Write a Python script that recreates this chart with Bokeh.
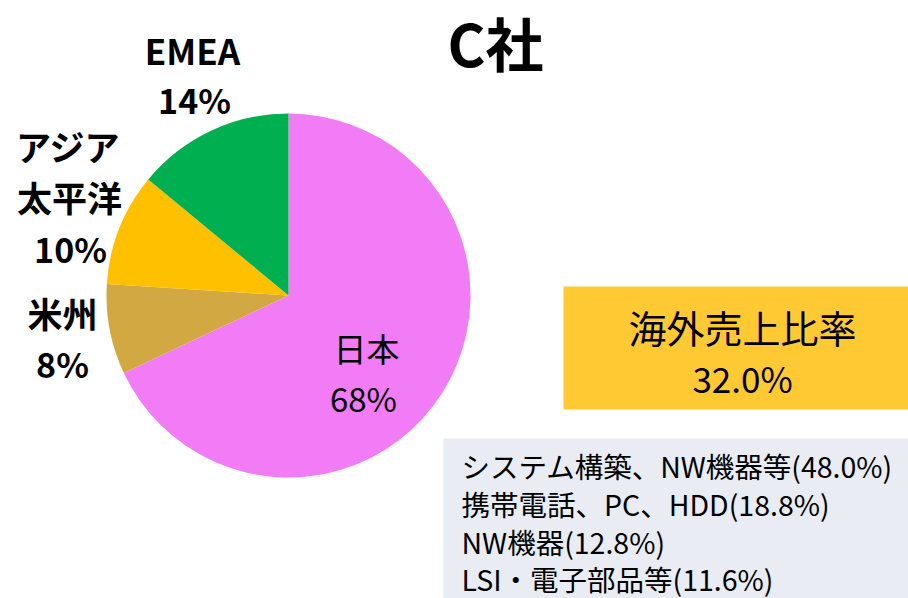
import math
from bokeh.plotting import figure
from bokeh.models import Range1d, ColumnDataSource
from bokeh.core.properties import value
from bokeh.embed import file_html
from bokeh.resources import INLINE

# ---- data ----
title = "C社"
regions = ["日本", "米州", "アジア\n太平洋", "EMEA"]
shares = [68, 8, 10, 14]
colors = ["#F27CF6", "#D1A842", "#FFC000", "#00B050"]
overseas_label = "海外売上比率"
overseas_ratio = 32.0
segments = ["システム構築、NW機器等", "携帯電話、PC、HDD", "NW機器", "LSI・電子部品等"]
segment_shares = [48.0, 18.8, 12.8, 11.6]

# ---- layout ----
W, H = 908, 598
FONT = "Noto Sans CJK JP"
cx, cy, R = 288, 295, 182
# label centers (name lines, percent line) in pixel coords (top-left origin)
label_pos = {
    "日本": [(366, 347), (363, 397)],
    "米州": [(62, 312), (62, 363)],
    "アジア\n太平洋": [(68, 145), (69, 196), (70, 248)],
    "EMEA": [(192, 49), (194, 99)],
}

def Y(y):
    return H - y

p = figure(width=W, height=H, x_range=Range1d(0, W), y_range=Range1d(0, H),
           output_backend="svg", toolbar_location=None, min_border=0,
           background_fill_color="white", border_fill_color="white")
p.axis.visible = False
p.grid.visible = False
p.outline_line_color = None

# pie
total = sum(shares)
starts, ends = [], []
c = 0.0
for s in shares:
    c0 = c / total
    c += s
    c1 = c / total
    starts.append(math.pi / 2 - c1 * 2 * math.pi)
    ends.append(math.pi / 2 - c0 * 2 * math.pi)
src = ColumnDataSource(dict(x=[cx] * len(shares), y=[Y(cy)] * len(shares),
                            s=starts, e=ends, color=colors))
p.wedge(x="x", y="y", radius=R, start_angle="s", end_angle="e",
        direction="anticlock", fill_color="color", line_color=None, source=src)

# pie labels
for name, share in zip(regions, shares):
    lines = name.split("\n") + [f"{share}%"]
    pos = label_pos[name]
    bold = name != "日本"
    for i, (txt, (x, y)) in enumerate(zip(lines, pos)):
        is_pct = i == len(lines) - 1
        size = "33px" if not bold else ("34px" if is_pct else "35px")
        p.text(x=[x], y=[Y(y)], text=[txt], text_align="center",
               text_baseline="middle", text_font=value(FONT),
               text_font_size=size,
               text_font_style="bold" if bold else "normal",
               text_color="black")

# title
p.text(x=[495], y=[Y(41)], text=[title], text_align="center",
       text_baseline="middle", text_font=value(FONT), text_font_size="58px",
       text_font_style="bold", text_color="black")

# overseas ratio box
p.quad(left=[563], right=[W], top=[Y(286)], bottom=[Y(409)],
       fill_color="#FFC933", line_color=None)
p.text(x=[742], y=[Y(326)], text=[overseas_label], text_align="center",
       text_baseline="middle", text_font=value(FONT), text_font_size="38px",
       text_color="black")
p.text(x=[742], y=[Y(377)], text=[f"{overseas_ratio:.1f}%"], text_align="center",
       text_baseline="middle", text_font=value(FONT), text_font_size="35px",
       text_color="black")

# segments box
p.quad(left=[443], right=[W], top=[Y(438)], bottom=[0],
       fill_color="#E9EDF3", line_color=None)
seg_y = [465, 503, 541, 578]
for name, share, y in zip(segments, segment_shares, seg_y):
    p.text(x=[461], y=[Y(y)], text=[f"{name}({share:.1f}%)"], text_align="left",
           text_baseline="middle", text_font=value(FONT), text_font_size="28.5px",
           text_color="black")

open("out.html", "w").write(file_html(p, INLINE))
